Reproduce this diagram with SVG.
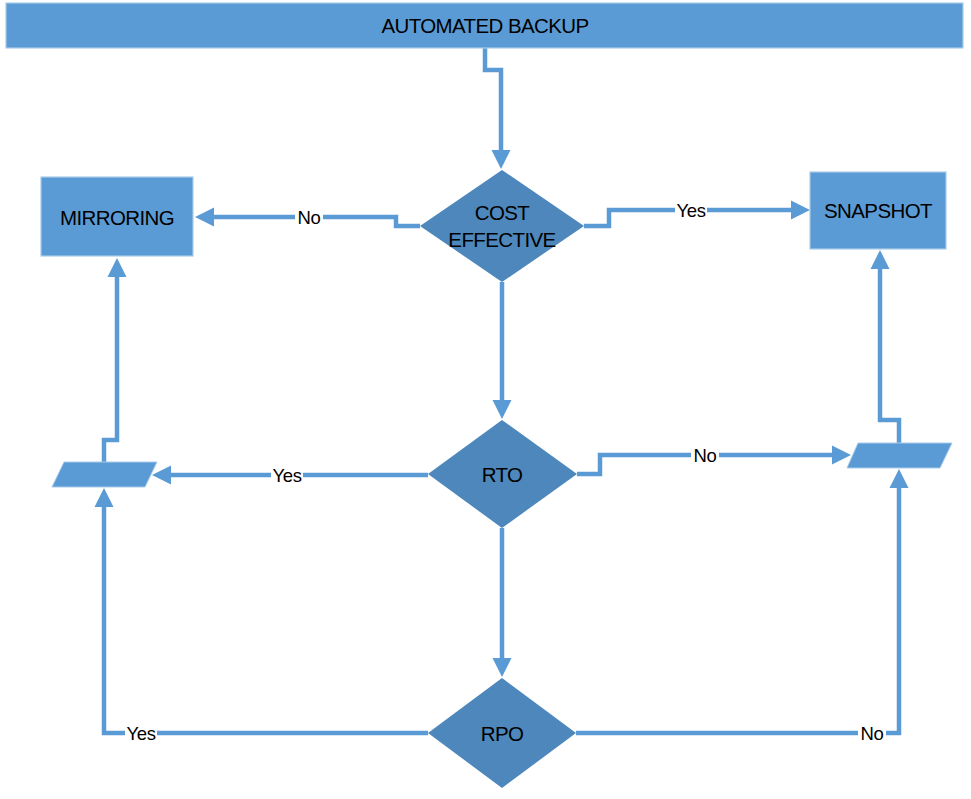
<svg xmlns="http://www.w3.org/2000/svg" width="971" height="799" viewBox="0 0 971 799">
<style>
.box{fill:#5B9BD5;stroke:#A9CBEA;stroke-width:1.2}
.dia{fill:#4D87BC}
.par{fill:#5B9BD5;stroke:#A9CBEA;stroke-width:1}
.ntx{font-family:"Liberation Sans",Arial,sans-serif;font-size:20.5px;letter-spacing:-0.6px;fill:#000;text-anchor:middle}
.ltx{font-family:"Liberation Sans",Arial,sans-serif;font-size:18.5px;letter-spacing:-0.4px;fill:#000;text-anchor:middle}
.con{fill:none;stroke:#5B9BD5;stroke-width:4.5;stroke-linejoin:miter}
.lbg{fill:#fff}
</style>
<defs>
<marker id="ah" markerUnits="userSpaceOnUse" markerWidth="20" markerHeight="20" refX="1" refY="9.5" orient="auto" overflow="visible">
<path d="M0,0 L19,9.5 L0,19 Z" fill="#5B9BD5"/>
</marker>
</defs>
<rect width="971" height="799" fill="#fff"/>
<g id="connectors">
<path class="con" d="M485,48 V70 H501 V151" marker-end="url(#ah)"/>
<path class="con" d="M420,226 H396 V217 H213" marker-end="url(#ah)"/>
<path class="con" d="M584,226 H609 V210 H792" marker-end="url(#ah)"/>
<path class="con" d="M502,282 V401" marker-end="url(#ah)"/>
<path class="con" d="M428,475 H170" marker-end="url(#ah)"/>
<path class="con" d="M577,474 H600 V455 H833" marker-end="url(#ah)"/>
<path class="con" d="M502,528 V659" marker-end="url(#ah)"/>
<path class="con" d="M428,733 H104 V506" marker-end="url(#ah)"/>
<path class="con" d="M576,733 H899 V487" marker-end="url(#ah)"/>
<path class="con" d="M104,462 V440 H117 V276" marker-end="url(#ah)"/>
<path class="con" d="M899,443 V420 H880 V268" marker-end="url(#ah)"/>
<g id="labels">
<rect class="lbg" x="295" y="207" width="28" height="20"/><text class="ltx" x="309" y="223.5">No</text>
<rect class="lbg" x="675" y="200" width="32" height="20"/><text class="ltx" x="691" y="216.5">Yes</text>
<rect class="lbg" x="271" y="465" width="32" height="20"/><text class="ltx" x="287" y="481.5">Yes</text>
<rect class="lbg" x="691" y="445" width="28" height="20"/><text class="ltx" x="705" y="461.5">No</text>
<rect class="lbg" x="125" y="723" width="32" height="20"/><text class="ltx" x="141" y="739.5">Yes</text>
<rect class="lbg" x="858" y="723" width="28" height="20"/><text class="ltx" x="872" y="739.5">No</text>
</g>
</g>
<g id="automated-backup">
<rect class="box" x="6" y="3" width="957" height="45"/>
<text class="ntx" x="485" y="33">AUTOMATED BACKUP</text>
</g>
<g id="cost-effective">
<polygon class="dia" points="502,170 584,226 502,282 420,226"/>
<text class="ntx" x="502" y="219.5">COST</text>
<text class="ntx" x="502" y="246.5">EFFECTIVE</text>
</g>
<g id="mirroring">
<rect class="box" x="41" y="177" width="152" height="79"/>
<text class="ntx" x="117" y="224.5">MIRRORING</text>
</g>
<g id="snapshot">
<rect class="box" x="810" y="172" width="136" height="77"/>
<text class="ntx" x="878" y="217.5">SNAPSHOT</text>
</g>
<g id="rto">
<polygon class="dia" points="502,420 577,474 502,528 428,474"/>
<text class="ntx" x="502" y="481.5">RTO</text>
</g>
<g id="rpo">
<polygon class="dia" points="502,678 576,733 502,788 428,733"/>
<text class="ntx" x="502" y="740.5">RPO</text>
</g>
<g id="left-merge">
<polygon class="par" points="64,462 157,462 145,487 52,487"/>
</g>
<g id="right-merge">
<polygon class="par" points="858,443 952,443 940,468 847,468"/>
</g>
</svg>
